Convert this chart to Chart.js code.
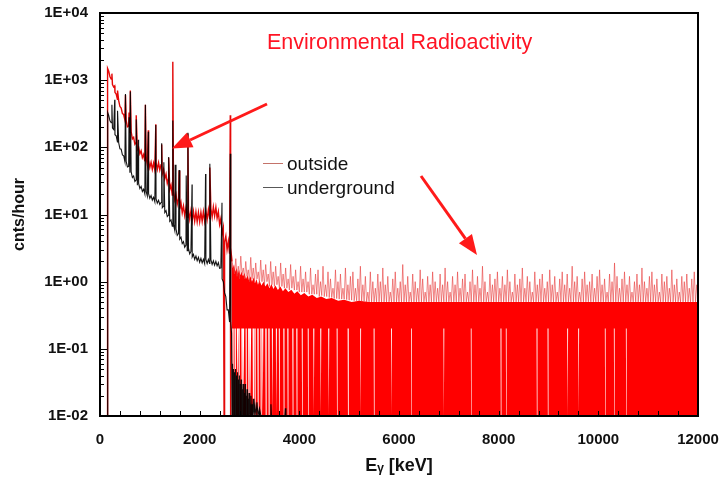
<!DOCTYPE html>
<html><head><meta charset="utf-8">
<script src="https://cdn.jsdelivr.net/npm/chart.js@4.4.1/dist/chart.umd.min.js"></script>
<style>html,body{margin:0;padding:0;background:#fff}canvas{display:block}</style>
</head><body><canvas id="c" width="720" height="483"></canvas>
<script>
const seriesNames = ['outside', 'underground'];
const chartTitle = 'Environmental Radioactivity';
const xTitle = 'E\u1D67 [keV]';
const yTitle = 'cnts/hour';
const xTickValues = [0, 2000, 4000, 6000, 8000, 10000, 12000];
const xTickLabels = ['0', '2000', '4000', '6000', '8000', '10000', '12000'];
const yTickValues = [0.01, 0.1, 1, 10, 100, 1000, 10000];
const yTickLabels = ['1E-02', '1E-01', '1E+00', '1E+01', '1E+02', '1E+03', '1E+04'];

// outside spectrum, low-energy part [keV, cnts/hour]
const outsideLow = [[145,0.01],[152,1500],[175,1360],[200,1120],[225,1040],[239,1250],[250,860],[275,790],[295,820],[300,660],[325,620],[350,520],[352,700],[375,495],[400,405],[425,385],[450,318],[475,308],[500,255],[511,600],[525,252],[550,202],[575,208],[583,330],[600,163],[609,700],[625,171],[650,134],[675,141],[700,111],[725,118],[727,300],[750,92],[775,100],[800,80],[825,89],[850,70],[875,78],[900,62],[911,430],[925,70],[950,55],[969,180],[975,64],[1000,50],[1025,60],[1050,47],[1075,58],[1100,46],[1120,220],[1125,59],[1150,47],[1175,59],[1200,46],[1225,55],[1238,110],[1250,40],[1275,47],[1300,34],[1325,40],[1350,29],[1375,34],[1378,70],[1400,23.5],[1425,27.5],[1450,19.5],[1461,1880],[1475,23],[1500,16.5],[1525,19.8],[1550,14.2],[1575,17.2],[1588,45],[1600,12],[1625,15],[1650,10.6],[1675,13.4],[1700,9.6],[1725,12.5],[1750,9],[1764,160],[1775,11.8],[1800,8.5],[1825,11.4],[1850,8.1],[1875,11.1],[1900,7.9],[1925,10.9],[1950,7.8],[1975,10.8],[2000,7.8],[2025,10.8],[2050,7.9],[2075,11],[2100,8],[2125,11.3],[2150,8.4],[2175,11.8],[2200,8.7],[2204,50],[2225,12.4],[2250,9.2],[2275,13],[2300,9.5],[2325,12.8],[2350,8.8],[2375,11],[2400,7.1],[2425,8.7],[2450,5.2],[2475,6.4],[2490,0.01],[2500,3.9],[2525,4.8],[2550,3.0],[2575,4.0],[2600,2.6],[2614,300],[2618,0.01],[2625,3.2],[2650,2.0]];

// outside spectrum, high-energy part (spiky top of the noise)
const outsideHigh = [
[2700,1.3],[2725,2.2],[2750,1.2],[2775,1.7],[2800,1.1],[2825,2.4],[2850,1.3],[2875,1.6],
[2900,1.1],[2925,2.0],[2950,1.2],[2975,1.5],[3000,1.0],[3025,2.3],[3050,1.1],[3075,1.6],
[3100,1.0],[3125,1.9],[3150,1.1],[3175,1.4],[3200,0.95],[3225,2.1],[3250,1.0],[3275,1.5],
[3300,0.9],[3325,1.8],[3350,1.0],[3375,1.3],[3400,0.85],[3425,2.0],[3450,0.9],[3475,1.4],
[3500,0.85],[3525,1.7],[3550,0.9],[3575,1.2],[3600,0.8],[3625,1.9],[3650,0.85],[3675,1.3],
[3700,0.8],[3725,1.6],[3750,0.8],[3775,1.1],[3800,0.75],[3825,1.8],[3850,0.8],[3875,1.2],
[3900,0.75],[3925,1.5],[3950,0.75],[3975,1.0],[4000,0.7],[4025,1.7],[4050,0.7],[4075,1.1],
[4100,0.7],[4125,1.4],[4150,0.7],[4175,1.0],[4200,0.65],[4225,1.6],[4250,0.65],[4275,0.9],
[4300,0.65],[4325,1.3],[4350,0.65],[4375,1.5],[4400,0.6],[4425,1.0],[4450,0.62],[4475,1.7],
[4500,0.6],[4525,0.9],[4550,0.6],[4575,1.4],[4600,0.58],[4625,1.1],[4650,0.58],[4675,0.8],
[4700,0.56],[4725,1.5],[4750,0.56],[4775,1.0],[4800,0.55],[4825,1.3],[4850,0.55],[4875,0.8],
[4900,0.55],[4925,1.6],[4950,0.54],[4975,0.9],[5000,0.53],[5025,1.2],[5050,0.53],[5075,1.4],
[5100,0.52],[5125,0.8],[5150,0.52],[5175,1.1],[5200,0.52],[5225,1.7],[5250,0.51],[5275,0.9],
[5300,0.51],[5325,1.2],[5350,0.5],[5375,0.7],[5400,0.5],[5425,1.4],[5450,0.5],[5475,1.0],
[5500,0.5],[5525,0.8],[5550,0.5],[5575,1.3],[5600,0.5],[5625,1.0],[5650,0.5],[5675,1.6],
[5700,0.5],[5725,0.9],[5750,0.5],[5775,1.2],[5800,0.5],[5825,0.7],[5850,0.5],[5875,1.1],
[5900,0.5],[5925,1.4],[5950,0.5],[5975,0.8],[6000,0.5],[6025,1.0],[6050,0.5],[6075,1.8],
[6100,0.5],[6125,0.9],[6150,0.5],[6175,1.2],[6200,0.5],[6225,0.7],[6250,0.5],[6275,1.3],
[6300,0.5],[6325,1.0],[6350,0.5],[6375,0.8],[6400,0.5],[6425,1.5],[6450,0.5],[6475,1.1],
[6500,0.5],[6525,0.7],[6550,0.5],[6575,1.2],[6600,0.5],[6625,0.9],[6650,0.5],[6675,1.4],
[6700,0.5],[6725,1.0],[6750,0.5],[6775,0.8],[6800,0.5],[6825,1.3],[6850,0.5],[6875,0.9],
[6900,0.5],[6925,1.6],[6950,0.5],[6975,1.0],[7000,0.5],[7025,0.7],[7050,0.5],[7075,1.2],
[7100,0.5],[7125,0.9],[7150,0.5],[7175,1.4],[7200,0.5],[7225,0.8],[7250,0.5],[7275,1.1],
[7300,0.5],[7325,1.3],[7350,0.5],[7375,0.7],[7400,0.5],[7425,1.0],[7450,0.5],[7475,1.5],
[7500,0.5],[7525,0.9],[7550,0.5],[7575,1.2],[7600,0.5],[7625,0.8],[7650,0.5],[7675,1.7],
[7700,0.5],[7725,1.0],[7750,0.5],[7775,0.7],[7800,0.5],[7825,1.3],[7850,0.5],[7875,0.9],
[7900,0.5],[7925,1.1],[7950,0.5],[7975,1.4],[8000,0.5],[8025,0.8],[8050,0.5],[8075,1.2],
[8100,0.5],[8125,0.9],[8150,0.5],[8175,1.5],[8200,0.5],[8225,1.0],[8250,0.5],[8275,0.7],
[8300,0.5],[8325,1.3],[8350,0.5],[8375,0.9],[8400,0.5],[8425,1.1],[8450,0.5],[8475,1.6],
[8500,0.5],[8525,0.8],[8550,0.5],[8575,1.2],[8600,0.5],[8625,1.0],[8650,0.5],[8675,0.7],
[8700,0.5],[8725,1.4],[8750,0.5],[8775,0.9],[8800,0.5],[8825,1.1],[8850,0.5],[8875,1.3],
[8900,0.5],[8925,0.8],[8950,0.5],[8975,1.0],[9000,0.5],[9025,1.5],[9050,0.5],[9075,0.9],
[9100,0.5],[9125,1.2],[9150,0.5],[9175,0.7],[9200,0.5],[9225,1.1],[9250,0.5],[9275,1.4],
[9300,0.5],[9325,0.9],[9350,0.5],[9375,1.3],[9400,0.5],[9425,0.8],[9450,0.5],[9475,1.7],
[9500,0.5],[9525,1.0],[9550,0.5],[9575,1.2],[9600,0.5],[9625,0.7],[9650,0.5],[9675,1.1],
[9700,0.5],[9725,1.4],[9750,0.5],[9775,0.9],[9800,0.5],[9825,1.0],[9850,0.5],[9875,1.3],
[9900,0.5],[9925,0.8],[9950,0.5],[9975,1.2],[10000,0.5],[10025,1.5],[10050,0.5],[10075,0.9],
[10100,0.5],[10125,1.1],[10150,0.5],[10175,0.7],[10200,0.5],[10225,1.3],[10250,0.5],[10275,1.0],
[10300,0.5],[10325,1.9],[10350,0.5],[10375,1.2],[10400,0.5],[10425,0.8],[10450,0.5],[10475,1.1],
[10500,0.5],[10525,1.4],[10550,0.5],[10575,0.9],[10600,0.5],[10625,1.2],[10650,0.5],[10675,0.7],
[10700,0.5],[10725,1.0],[10750,0.5],[10775,1.3],[10800,0.5],[10825,0.9],[10850,0.5],[10875,1.6],
[10900,0.5],[10925,1.0],[10950,0.5],[10975,0.8],[11000,0.5],[11025,1.2],[11050,0.5],[11075,1.4],
[11100,0.5],[11125,0.9],[11150,0.5],[11175,1.1],[11200,0.5],[11225,0.7],[11250,0.5],[11275,1.3],
[11300,0.5],[11325,1.0],[11350,0.5],[11375,1.2],[11400,0.5],[11425,0.8],[11450,0.5],[11475,1.5],
[11500,0.5],[11525,0.9],[11550,0.5],[11575,1.1],[11600,0.5],[11625,0.7],[11650,0.5],[11675,1.2],
[11700,0.5],[11725,1.0],[11750,0.5],[11775,1.3],[11800,0.5],[11825,0.8],[11850,0.5],[11875,1.1],
[11900,0.5],[11925,1.4],[11950,0.5],[11975,0.9],[12000,0.5]];

// outside: solid upper part of the noise band (filled down to 0.2)
const outsideCap = [[2640,2.2],[2665,1.6],[2690,1.8],[2715,1.4],[2740,1.6],[2765,1.3],[2790,1.5],[2815,1.25],[2840,1.4],[2870,1.2],[2900,1.35],[2930,1.1],[2960,1.25],[2990,1.05],[3020,1.2],[3050,1.0],[3080,1.15],[3110,0.95],[3140,1.1],[3170,0.9],[3200,1.05],[3240,0.88],[3280,1.0],[3320,0.85],[3360,0.95],[3400,0.8],[3440,0.92],[3480,0.78],[3520,0.88],[3570,0.75],[3620,0.85],[3670,0.72],[3720,0.8],[3780,0.7],[3840,0.76],[3900,0.66],[3960,0.72],[4030,0.63],[4100,0.68],[4180,0.6],[4260,0.64],[4350,0.57],[4440,0.6],[4540,0.55],[4650,0.57],[4780,0.52],[4900,0.54],[5050,0.5],[5200,0.52],[5400,0.5],[12000,0.5]];

// outside: lower part of the noise band, with empty (zero-count) channels
const outsideBand = [[2640,0.25],
[2654,0.25],[2663,0.01],[2673,0.01],[2682,0.25],[2698,0.25],[2707,0.01],[2717,0.01],[2726,0.25],
[2746,0.25],[2755,0.01],[2765,0.01],[2774,0.25],[2781,0.25],[2790,0.01],[2800,0.01],[2809,0.25],
[2836,0.25],[2845,0.01],[2855,0.01],[2864,0.25],[2866,0.25],[2875,0.01],[2885,0.01],[2894,0.25],
[2921,0.25],[2930,0.01],[2940,0.01],[2949,0.25],[2971,0.25],[2980,0.01],[2990,0.01],[2999,0.25],
[3006,0.25],[3015,0.01],[3025,0.01],[3034,0.25],[3061,0.25],[3070,0.01],[3080,0.01],[3089,0.25],
[3096,0.25],[3105,0.01],[3115,0.01],[3124,0.25],[3156,0.25],[3165,0.01],[3175,0.01],[3184,0.25],
[3216,0.25],[3225,0.01],[3235,0.01],[3244,0.25],[3251,0.25],[3260,0.01],[3270,0.01],[3279,0.25],
[3316,0.25],[3325,0.01],[3335,0.01],[3344,0.25],[3376,0.25],[3385,0.01],[3395,0.01],[3404,0.25],
[3448,0.25],[3456,0.01],[3464,0.01],[3472,0.25],[3528,0.25],[3536,0.01],[3544,0.01],[3552,0.25],
[3588,0.25],[3596,0.01],[3604,0.01],[3612,0.25],[3678,0.25],[3686,0.01],[3694,0.01],[3702,0.25],
[3758,0.25],[3766,0.01],[3774,0.01],[3782,0.25],[3858,0.25],[3866,0.01],[3874,0.01],[3882,0.25],
[3938,0.25],[3946,0.01],[3954,0.01],[3962,0.25],[4048,0.25],[4056,0.01],[4064,0.01],[4072,0.25],
[4168,0.25],[4176,0.01],[4184,0.01],[4192,0.25],[4278,0.25],[4286,0.01],[4294,0.01],[4302,0.25],
[4418,0.25],[4426,0.01],[4434,0.01],[4442,0.25],[4578,0.25],[4586,0.01],[4594,0.01],[4602,0.25],
[4748,0.25],[4756,0.01],[4764,0.01],[4772,0.25],[4968,0.25],[4976,0.01],[4984,0.01],[4992,0.25],
[5220,0.25],[5227,0.01],[5233,0.01],[5240,0.25],[5490,0.25],[5497,0.01],[5503,0.01],[5510,0.25],
[5840,0.25],[5847,0.01],[5853,0.01],[5860,0.25],[6240,0.25],[6247,0.01],[6253,0.01],[6260,0.25],
[6890,0.25],[6897,0.01],[6903,0.01],[6910,0.25],[7440,0.25],[7447,0.01],[7453,0.01],[7460,0.25],
[8036,0.25],[8043,0.01],[8049,0.01],[8056,0.25],[8143,0.25],[8150,0.01],[8156,0.01],[8163,0.25],
[8759,0.25],[8766,0.01],[8772,0.01],[8779,0.25],[8980,0.25],[8987,0.01],[8993,0.01],[9000,0.25],
[9374,0.25],[9381,0.01],[9387,0.01],[9394,0.25],[9595,0.25],[9602,0.01],[9608,0.01],[9615,0.25],
[10130,0.25],[10137,0.01],[10143,0.01],[10150,0.25],[10311,0.25],[10318,0.01],[10324,0.01],[10331,0.25],
[10552,0.25],[10559,0.01],[10565,0.01],[10572,0.25],[12000,0.25]];

// underground spectrum [keV, cnts/hour]
const underground = [[150,0.01],[155,330],[175,300],[200,248],[225,232],[239,430],[250,194],[275,184],[295,510],[300,154],[325,148],[350,120],[352,350],[375,117],[400,95],[425,94],[450,77],[475,75],[500,61],[511,620],[525,62],[550,51],[575,52],[583,280],[600,42],[609,680],[625,43.5],[650,35.5],[675,37.5],[700,31],[725,32.8],[727,260],[750,27.2],[768,130],[775,29],[800,24.4],[825,26.2],[850,22],[875,23.8],[900,20.2],[911,430],[925,22],[950,18.8],[969,170],[975,20.4],[1000,17.4],[1025,19.1],[1050,16.4],[1075,18],[1100,15.5],[1120,215],[1125,17.1],[1150,14.8],[1175,16.3],[1200,14.1],[1225,15.1],[1238,115],[1250,12.6],[1275,13.3],[1281,60],[1300,10.7],[1325,11.4],[1350,9.3],[1375,9.8],[1378,72],[1400,7.9],[1425,8.3],[1450,6.7],[1461,250],[1475,7.1],[1500,5.8],[1509,55],[1525,6.1],[1550,4.9],[1575,5.2],[1588,46],[1600,4.3],[1625,4.6],[1650,3.7],[1675,3.95],[1700,3.25],[1725,3.5],[1730,38],[1750,2.9],[1764,165],[1775,3.15],[1800,2.6],[1825,2.82],[1847,28],[1850,2.33],[1875,2.55],[1900,2.14],[1925,2.4],[1950,2.05],[1975,2.3],[2000,1.95],[2025,2.22],[2050,1.9],[2075,2.15],[2100,1.86],[2118,40],[2125,2.14],[2150,1.86],[2175,2.14],[2200,1.86],[2204,57],[2225,2.12],[2250,1.81],[2275,2.05],[2300,1.76],[2325,2.0],[2350,1.72],[2375,1.92],[2400,1.58],[2425,1.6],[2448,15],[2450,1.1],[2475,1.0],[2500,0.68],[2525,0.6],[2550,0.38],[2575,0.38],[2600,0.25],[2614,80],[2625,0.24],[2640,0.17],
[2650,0.01],[2655,0.06],[2660,0.01],[2665,0.045],[2670,0.01],[2675,0.05],[2680,0.01],[2685,0.035],[2690,0.01],[2695,0.045],[2700,0.01],[2705,0.03],[2710,0.01],[2715,0.05],[2720,0.01],[2725,0.03],[2730,0.01],[2735,0.04],[2740,0.01],[2745,0.028],[2750,0.01],[2755,0.045],[2760,0.01],[2765,0.03],[2770,0.01],[2775,0.035],[2780,0.01],[2785,0.025],[2790,0.01],[2795,0.04],[2800,0.01],[2810,0.03],[2820,0.01],[2830,0.035],[2840,0.01],[2850,0.025],[2860,0.01],[2870,0.03],[2880,0.01],[2890,0.022],[2900,0.01],[2910,0.03],[2920,0.01],[2930,0.02],[2940,0.01],[2950,0.025],[2960,0.01],[2970,0.018],[2980,0.01],[2990,0.022],[3000,0.01],[3010,0.016],[3020,0.01],[3030,0.02],[3040,0.01],[3050,0.015],[3060,0.01],[3075,0.018],[3090,0.01],[3110,0.014],[3130,0.01],[3150,0.016],[3170,0.01],[3200,0.013],[3230,0.01],[3420,0.01],[3430,0.015],[3440,0.01],[3710,0.01],[3720,0.013],[3730,0.01],[12000,0.01]];

const toXY = arr => arr.map(p => ({x: p[0], y: p[1]}));
const RED = 'rgb(228,8,8)';

const decor = {
  id: 'decor',
  afterDraw(chart) {
    const {ctx, chartArea: a, scales: {x, y}} = chart;
    ctx.save();
    ctx.strokeStyle = '#000';
    ctx.lineWidth = 1;
    ctx.beginPath();
    for (let e = 400; e < 12000; e += 400) {
      const px = Math.round(x.getPixelForValue(e)) + 0.5;
      ctx.moveTo(px, a.bottom); ctx.lineTo(px, a.bottom - 5);
    }
    for (let k = -2; k < 4; k++) for (let m = 1; m < 10; m++) {
      const v = m * Math.pow(10, k);
      const py = Math.round(y.getPixelForValue(v)) + 0.5;
      const len = m === 1 ? 7 : 4;
      ctx.moveTo(a.left, py); ctx.lineTo(a.left + len, py);
    }
    ctx.stroke();
    ctx.lineWidth = 2;
    ctx.strokeRect(a.left, a.top, a.right - a.left, a.bottom - a.top);

    // title inside plot
    ctx.fillStyle = '#ff1424';
    ctx.font = '21.5px "Liberation Sans", Arial, sans-serif';
    ctx.textBaseline = 'alphabetic';
    ctx.textAlign = 'left';
    ctx.fillText(chartTitle, 267, 49);

    // arrows
    const arrow = (x1, y1, x2, y2) => {
      const ang = Math.atan2(y2 - y1, x2 - x1), L = 20, W = 8;
      const bx = x2 - L * Math.cos(ang), by = y2 - L * Math.sin(ang);
      ctx.strokeStyle = '#ff1a1a'; ctx.fillStyle = '#ff1a1a'; ctx.lineWidth = 3;
      ctx.beginPath(); ctx.moveTo(x1, y1); ctx.lineTo(bx, by); ctx.stroke();
      ctx.beginPath(); ctx.moveTo(x2, y2);
      ctx.lineTo(bx + W * Math.sin(ang), by - W * Math.cos(ang));
      ctx.lineTo(bx - W * Math.sin(ang), by + W * Math.cos(ang));
      ctx.closePath(); ctx.fill();
    };
    arrow(267, 104, 172, 148.5);
    arrow(421, 176, 477, 255);

    // legend
    const ds = chart.data.datasets;
    const items = [
      {label: ds[1].label, color: 'rgba(190,100,90,0.9)', y: 163.5},
      {label: ds[0].label, color: 'rgba(70,70,70,0.9)', y: 187.5}
    ];
    ctx.font = '19px "Liberation Sans", Arial, sans-serif';
    ctx.textBaseline = 'middle';
    items.forEach(it => {
      ctx.strokeStyle = it.color; ctx.lineWidth = 1;
      ctx.beginPath(); ctx.moveTo(263, it.y); ctx.lineTo(283, it.y); ctx.stroke();
      ctx.fillStyle = '#111';
      ctx.fillText(it.label, 287, it.y + 1.5);
    });
    ctx.restore();
  }
};

Chart.defaults.font.family = '"Liberation Sans", Arial, "DejaVu Sans", sans-serif';
new Chart(document.getElementById('c'), {
  type: 'line',
  data: {
    datasets: [
      {label: seriesNames[1], data: toXY(underground), borderColor: 'rgba(0,0,0,0.92)', borderWidth: 1.1, pointRadius: 0, fill: false},
      {label: seriesNames[0], data: toXY(outsideLow.concat(outsideHigh)), borderColor: RED, borderWidth: 1.4, pointRadius: 0, fill: false,
        segment: {borderColor: c => c.p0.parsed.x >= 2650 ? 'rgba(232,60,60,0.6)' : undefined, borderWidth: c => c.p0.parsed.x >= 2650 ? 1 : undefined}},
      {label: 'outside band top', data: toXY(outsideCap), borderColor: 'rgba(0,0,0,0)', borderWidth: 0, pointRadius: 0, backgroundColor: 'rgb(255,0,0)', fill: {value: 0.2}},
      {label: 'outside band', data: toXY(outsideBand), borderColor: 'rgba(0,0,0,0)', borderWidth: 0, pointRadius: 0, backgroundColor: 'rgb(255,0,0)', fill: 'start'}
    ]
  },
  options: {
    responsive: false,
    animation: false,
    events: [],
    layout: {padding: {top: 13, right: 22, left: 0, bottom: 0}},
    plugins: {legend: {display: false}, tooltip: {enabled: false}},
    elements: {line: {tension: 0}},
    scales: {
      x: {
        type: 'linear', min: 0, max: 12000,
        grid: {display: false, drawTicks: false},
        border: {display: false},
        afterBuildTicks: s => { s.ticks = xTickValues.map(v => ({value: v})); },
        afterFit: s => { s.height = 67; s.paddingLeft = 0; s.paddingRight = 0; },
        ticks: {autoSkip: false, maxRotation: 0, padding: 15, color: '#111', font: {size: 15, weight: 'bold'},
          callback: (v, i) => xTickLabels[i]},
        title: {display: true, text: xTitle, color: '#111', font: {size: 18, weight: 'bold'}, padding: {top: 4, bottom: 6}}
      },
      y: {
        type: 'logarithmic', min: 0.01, max: 10000,
        grid: {display: false, drawTicks: false},
        border: {display: false},
        afterBuildTicks: s => { s.ticks = yTickValues.map(v => ({value: v})); },
        afterFit: s => { s.width = 100; s.paddingTop = 0; s.paddingBottom = 0; },
        ticks: {autoSkip: false, padding: 12, color: '#111', font: {size: 15, weight: 'bold'},
          callback: (v, i) => yTickLabels[i]},
        title: {display: true, text: yTitle, color: '#111', font: {size: 16, weight: 'bold'}, padding: {top: 10, bottom: 0}}
      }
    }
  },
  plugins: [decor]
});
</script>
</body></html>
